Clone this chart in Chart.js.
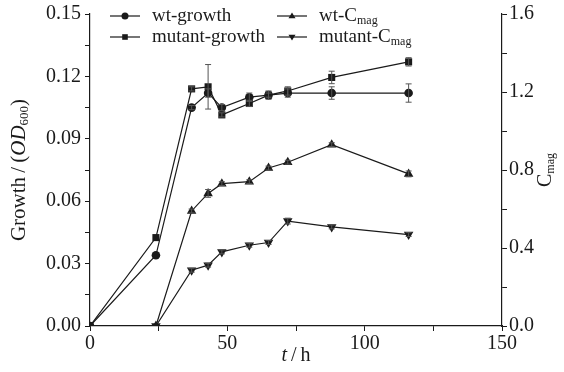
<!DOCTYPE html>
<html>
<head>
<meta charset="utf-8">
<script src="https://cdn.jsdelivr.net/npm/chart.js@4.4.0/dist/chart.umd.min.js"></script>
<style>
  html, body { margin: 0; padding: 0; background: #fff; }
</style>
</head>
<body>
<canvas id="growthChart" width="564" height="372"></canvas>
<script>
// time points (h)
const hours = [0, 24, 37, 43, 48, 58, 65, 72, 88, 116];

// growth, OD600 (left axis)
const wtGrowth     = [0, 0.034, 0.105, 0.112, 0.105, 0.110, 0.111, 0.112, 0.112, 0.112];
const mutantGrowth = [0, 0.0425, 0.114, 0.115, 0.1015, 0.107, 0.111, 0.113, 0.1195, 0.127];
const wtGrowthErr     = [0, 0, 0.001, 0.002, 0.0015, 0.002, 0.001, 0.002, 0.003, 0.0044];
const mutantGrowthErr = [0, 0, 0.001, 0.0107, 0.001, 0.0015, 0.002, 0.002, 0.003, 0.002];

// Cmag (right axis)
const wtCmag     = [null, 0, 0.59, 0.68, 0.73, 0.74, 0.81, 0.84, 0.93, 0.78];
const mutantCmag = [null, 0, 0.286, 0.312, 0.38, 0.414, 0.428, 0.538, 0.508, 0.469];
const wtCmagErr     = [0, 0, 0.01, 0.02, 0.01, 0.01, 0.01, 0.01, 0.01, 0.015];
const mutantCmagErr = [0, 0, 0.01, 0.01, 0.01, 0.01, 0.01, 0.015, 0.01, 0.01];

const leftTicks  = ["0.00", "0.03", "0.06", "0.09", "0.12", "0.15"];
const rightTicks = ["0.0", "0.4", "0.8", "1.2", "1.6"];
const xTicks     = ["0", "50", "100", "150"];

const FONT = '"Liberation Serif", "DejaVu Serif", serif';
const INK = "#1a1a1a";

function pts(ys) {
  return hours.map((h, i) => ({ x: h, y: ys[i] }));
}

// text with italic / subscript pieces
function drawRich(ctx, parts, x, y, size, align) {
  const fontFor = p => (p.italic ? "italic " : "") + (p.sub ? Math.round(size * 0.62) : size) + "px " + FONT;
  let total = 0;
  parts.forEach(p => { ctx.font = fontFor(p); total += ctx.measureText(p.t).width; });
  let cx = align === "center" ? x - total / 2 : x;
  ctx.textAlign = "left";
  ctx.textBaseline = "middle";
  parts.forEach(p => {
    ctx.font = fontFor(p);
    ctx.fillText(p.t, cx, p.sub ? y + size * 0.25 : y);
    cx += ctx.measureText(p.t).width;
  });
}

function marker(ctx, style, x, y, r) {
  ctx.beginPath();
  if (style === "circle") {
    ctx.arc(x, y, r, 0, Math.PI * 2);
  } else if (style === "rect") {
    ctx.rect(x - r * 0.8, y - r * 0.8, r * 1.6, r * 1.6);
  } else if (style === "up") {
    ctx.moveTo(x, y - r); ctx.lineTo(x + r, y + r * 0.65); ctx.lineTo(x - r, y + r * 0.65);
  } else {
    ctx.moveTo(x, y + r); ctx.lineTo(x + r, y - r * 0.65); ctx.lineTo(x - r, y - r * 0.65);
  }
  ctx.closePath();
  ctx.fill();
}

const errorBars = {
  id: "errorBars",
  afterDatasetsDraw(chart) {
    const ctx = chart.ctx;
    ctx.save();
    ctx.strokeStyle = "#555";
    ctx.lineWidth = 1;
    chart.data.datasets.forEach((ds, di) => {
      const meta = chart.getDatasetMeta(di);
      const scale = chart.scales[ds.yAxisID];
      ds.errors.forEach((e, i) => {
        if (!e || ds.data[i].y == null) return;
        const x = meta.data[i].x;
        const y1 = scale.getPixelForValue(ds.data[i].y + e);
        const y2 = scale.getPixelForValue(ds.data[i].y - e);
        ctx.beginPath();
        ctx.moveTo(x, y1); ctx.lineTo(x, y2);
        ctx.moveTo(x - 3, y1); ctx.lineTo(x + 3, y1);
        ctx.moveTo(x - 3, y2); ctx.lineTo(x + 3, y2);
        ctx.stroke();
      });
    });
    ctx.restore();
  }
};

const labelsAndLegend = {
  id: "labelsAndLegend",
  afterDraw(chart) {
    const ctx = chart.ctx;
    const area = chart.chartArea;
    ctx.save();
    ctx.fillStyle = INK;

    // axis titles
    ctx.save();
    ctx.translate(19, (area.top + area.bottom) / 2);
    ctx.rotate(-Math.PI / 2);
    drawRich(ctx, [{ t: "Growth\u2009/\u2009(" }, { t: "OD", italic: true }, { t: "600", sub: true }, { t: ")" }], 0, 0, 21, "center");
    ctx.restore();

    ctx.save();
    ctx.translate(546, (area.top + area.bottom) / 2);
    ctx.rotate(-Math.PI / 2);
    drawRich(ctx, [{ t: "C" }, { t: "mag", sub: true }], 0, 0, 20, "center");
    ctx.restore();

    drawRich(ctx, [{ t: "t", italic: true }, { t: "\u2009/\u2009h" }], (area.left + area.right) / 2, 356, 20, "center");

    // legend
    const items = [
      { x: 110, y: 16, style: "circle", parts: [{ t: "wt-growth" }] },
      { x: 110, y: 37, style: "rect", parts: [{ t: "mutant-growth" }] },
      { x: 277, y: 16, style: "up", parts: [{ t: "wt-C" }, { t: "mag", sub: true }] },
      { x: 277, y: 37, style: "down", parts: [{ t: "mutant-C" }, { t: "mag", sub: true }] }
    ];
    items.forEach(it => {
      ctx.strokeStyle = INK;
      ctx.lineWidth = 1.2;
      ctx.beginPath();
      ctx.moveTo(it.x, it.y); ctx.lineTo(it.x + 30, it.y);
      ctx.stroke();
      marker(ctx, it.style, it.x + 15, it.y, 3.5);
      drawRich(ctx, it.parts, it.x + 42, it.y, 19, "left");
    });
    ctx.restore();
  }
};

function lineSet(label, data, errors, axis, style, rotation) {
  return {
    label: label,
    data: pts(data),
    errors: errors,
    yAxisID: axis,
    borderColor: INK,
    backgroundColor: INK,
    borderWidth: 1.2,
    pointStyle: style,
    pointRotation: rotation || 0,
    pointRadius: style === "rect" ? 5 : style === "triangle" ? 5.5 : 4.3,
    pointBorderWidth: 0,
    tension: 0
  };
}

const tickFont = { family: FONT, size: 20, lineHeight: 1 };

new Chart(document.getElementById("growthChart"), {
  type: "line",
  data: {
    datasets: [
      lineSet("wt-growth", wtGrowth, wtGrowthErr, "y", "circle"),
      lineSet("mutant-growth", mutantGrowth, mutantGrowthErr, "y", "rect"),
      lineSet("wt-Cmag", wtCmag, wtCmagErr, "y1", "triangle"),
      lineSet("mutant-Cmag", mutantCmag, mutantCmagErr, "y1", "triangle", 180)
    ]
  },
  options: {
    responsive: false,
    animation: false,
    devicePixelRatio: 1,
    layout: { padding: { top: 13, left: 0, right: 0, bottom: 0 } },
    plugins: {
      legend: { display: false },
      tooltip: { enabled: false }
    },
    scales: {
      x: {
        type: "linear",
        min: 0,
        max: 150,
        ticks: {
          stepSize: 25,
          color: INK,
          font: tickFont,
          padding: 3,
          maxRotation: 0,
          callback: (v, i) => (i % 2 === 0 ? xTicks[i / 2] : "")
        },
        grid: { drawOnChartArea: false, color: INK, tickLength: 5 },
        border: { color: INK, width: 1.2 },
        afterFit: s => { s.height = 46; }
      },
      y: {
        position: "left",
        min: 0,
        max: 0.15,
        ticks: {
          stepSize: 0.015,
          color: INK,
          font: tickFont,
          padding: 4,
          callback: (v, i) => (i % 2 === 0 ? leftTicks[i / 2] : "")
        },
        grid: { drawOnChartArea: false, color: INK, tickLength: 5 },
        border: { color: INK, width: 1.2 },
        afterFit: s => { s.width = 90; }
      },
      y1: {
        position: "right",
        min: 0,
        max: 1.6,
        ticks: {
          stepSize: 0.2,
          color: INK,
          font: tickFont,
          padding: 2,
          callback: (v, i) => (i % 2 === 0 ? rightTicks[i / 2] : "")
        },
        grid: { drawOnChartArea: false, color: INK, tickLength: 5 },
        border: { color: INK, width: 1.2 },
        afterFit: s => { s.width = 62; }
      }
    }
  },
  plugins: [errorBars, labelsAndLegend]
});
</script>
</body>
</html>
